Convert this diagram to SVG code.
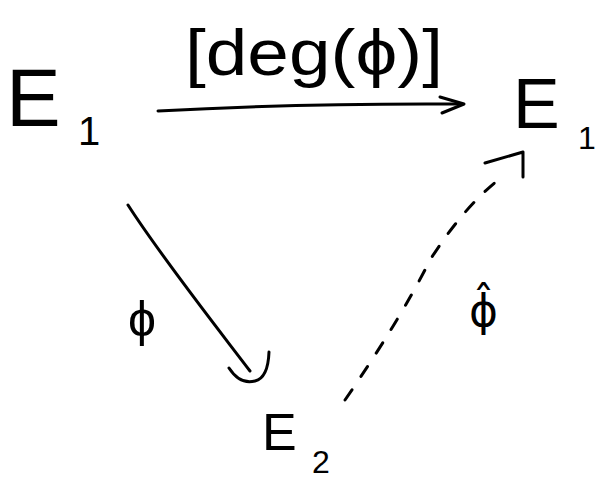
<svg xmlns="http://www.w3.org/2000/svg" width="608" height="479" viewBox="0 0 608 479">
<style>
.t{font-family:"Liberation Sans","DejaVu Sans",sans-serif;fill:#000}
.s{fill:none;stroke:#000;stroke-width:3;stroke-linecap:round;stroke-linejoin:round}
</style>
<rect width="608" height="479" fill="#fff"/>
<g id="E1-left"><text class="t" x="6" y="126" font-size="82">E</text><text class="t" x="78" y="145" font-size="40">1</text></g>
<g id="E1-right"><text class="t" x="513" y="128" font-size="70">E</text><text class="t" x="578" y="149" font-size="32">1</text></g>
<g id="E2"><text class="t" x="262" y="450" font-size="52">E</text><text class="t" x="312" y="473" font-size="32">2</text></g>
<g id="connectors">
<g id="top-arrow"><path class="s" d="M158,111 Q300,103 462,104"/><path class="s" d="M440,97 L464,104 L442,113"/>
<text class="t" x="185" y="75" font-size="64" textLength="258" lengthAdjust="spacingAndGlyphs">[deg(ϕ)]</text></g>
<g id="phi-arrow"><path class="s" d="M128,205 C160,255 215,325 250,371"/><path class="s" d="M229,368 Q240,385 255,381 Q268,378 269,352"/>
<text class="t" x="128" y="336" font-size="50">ϕ</text></g>
<g id="phihat-arrow"><path class="s" d="M345,400 Q400,320 430,260 Q465,205 502,177" stroke-dasharray="12 16"/><path class="s" d="M485,163 L523,152 L523,177"/>
<text x="469" y="326" font-size="44" font-family="'DejaVu Sans',sans-serif">ϕ̂</text></g>
</g>
</svg>
